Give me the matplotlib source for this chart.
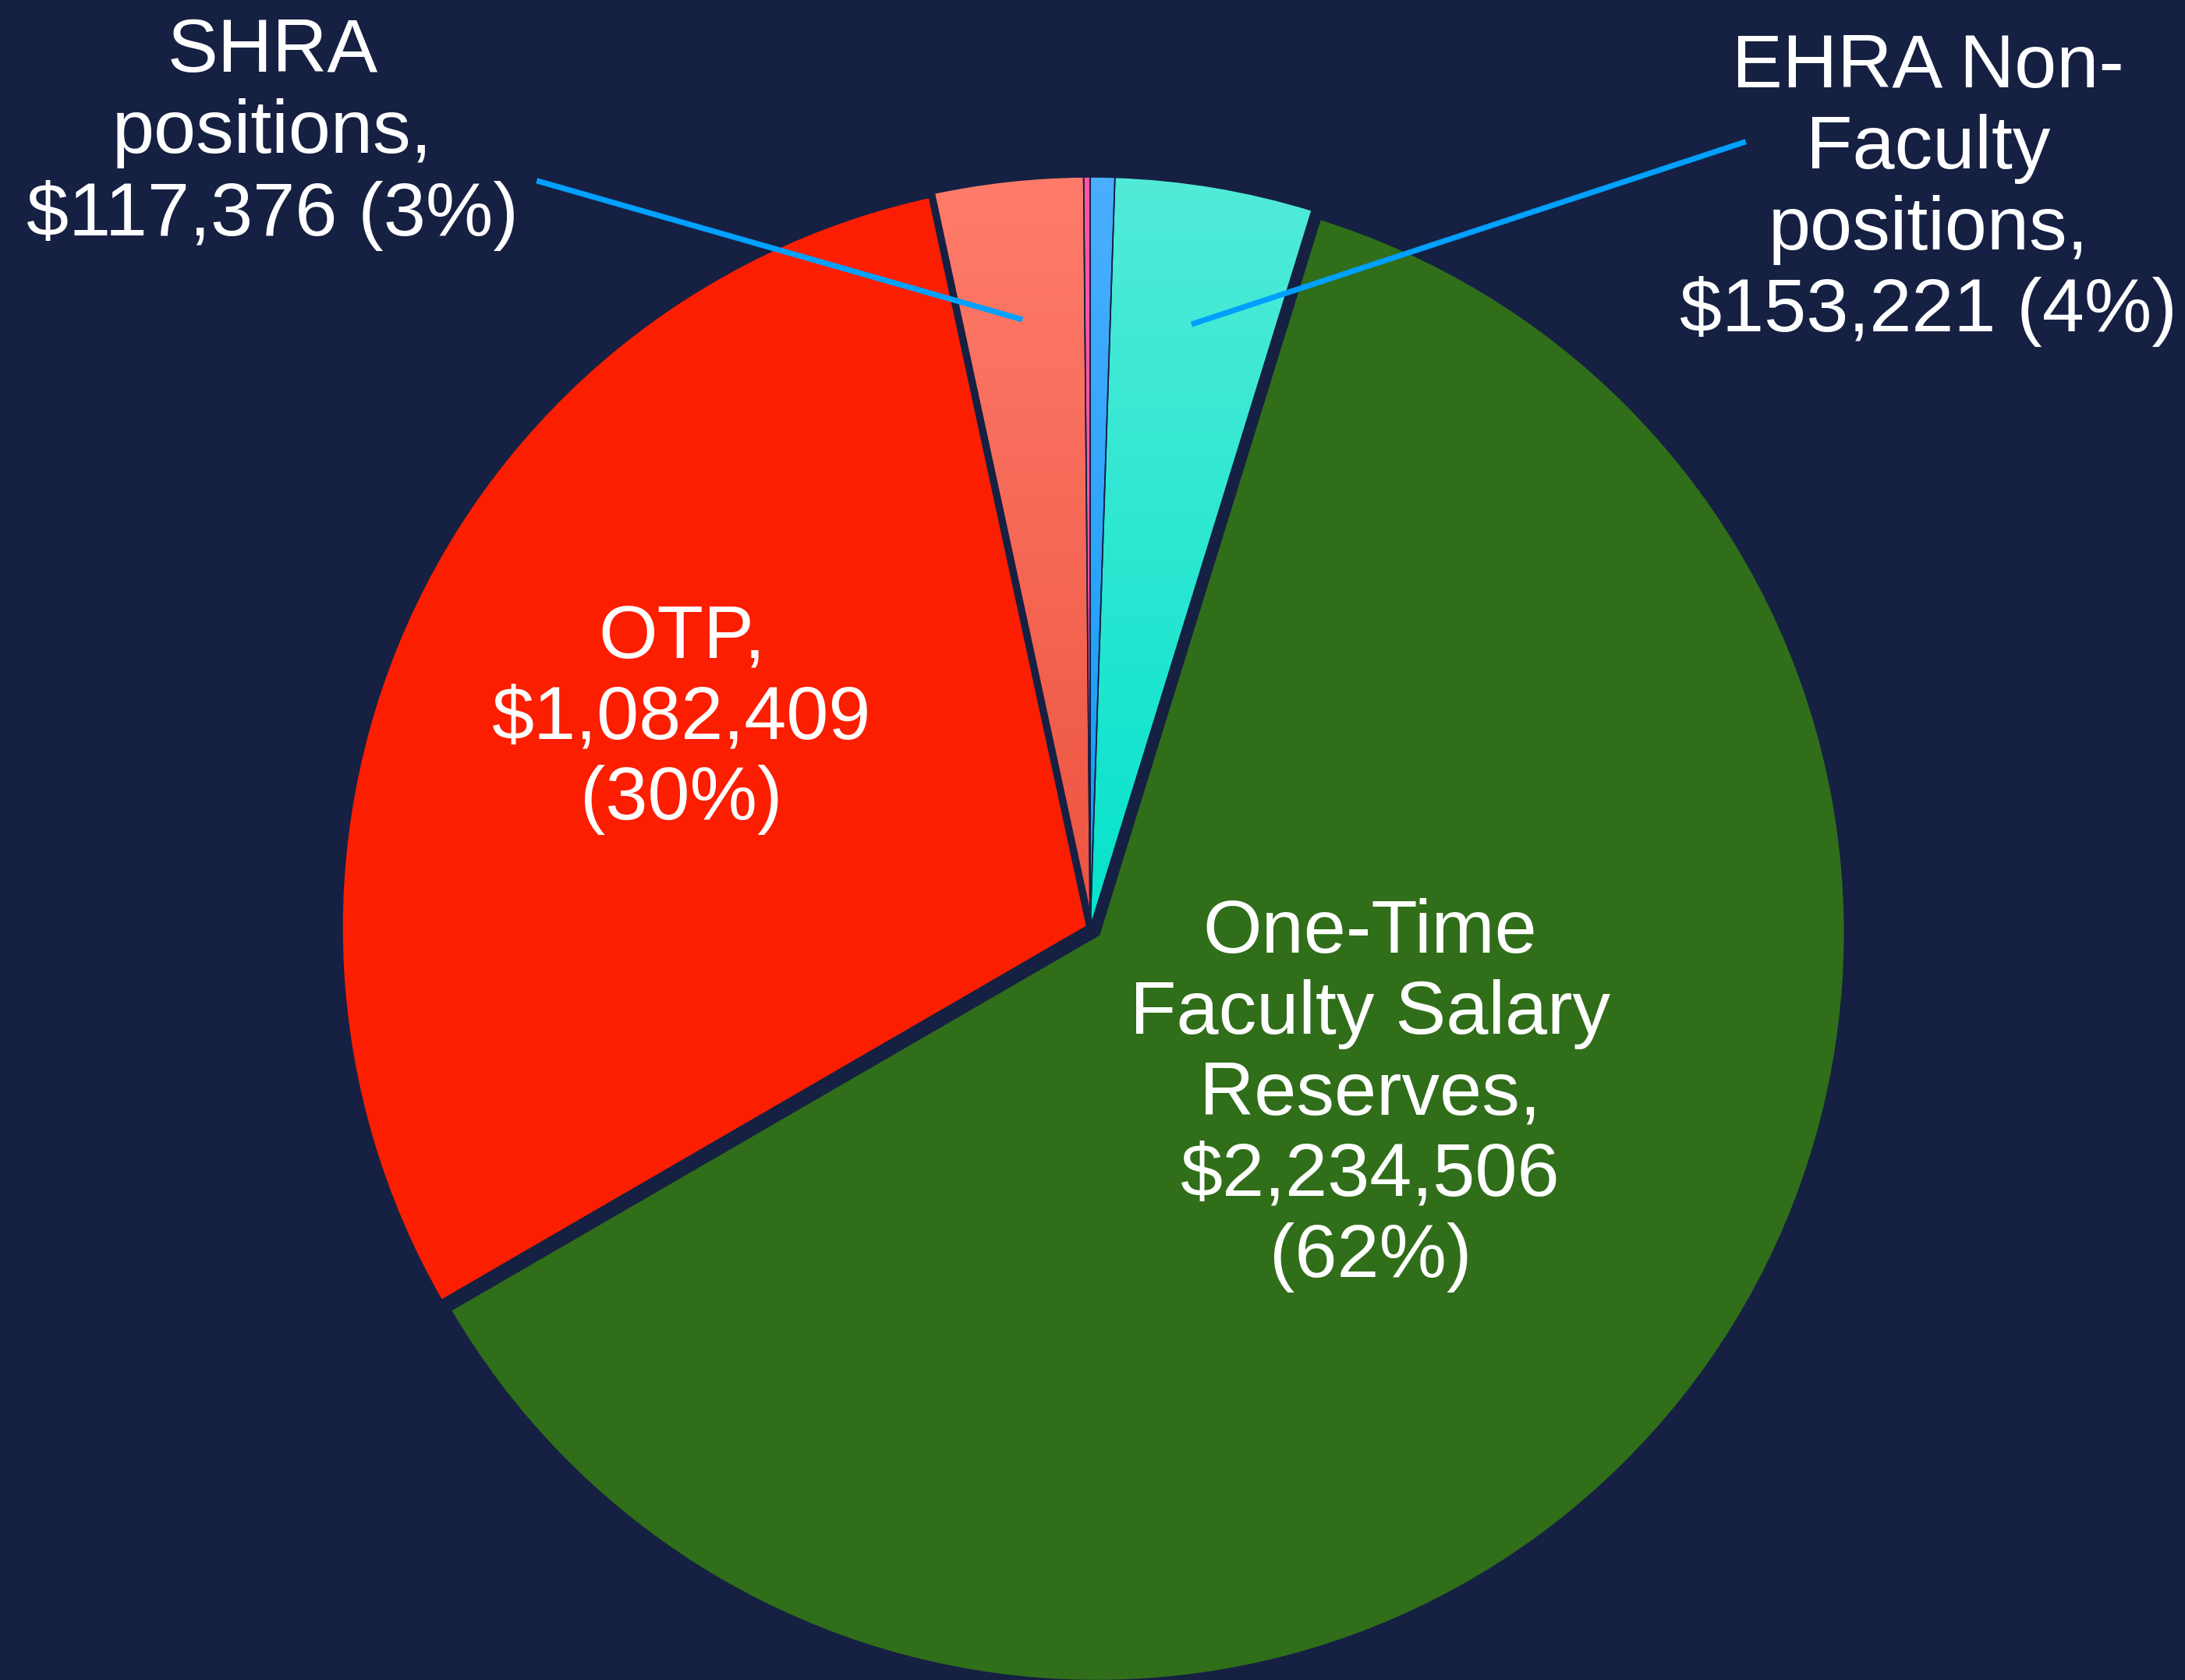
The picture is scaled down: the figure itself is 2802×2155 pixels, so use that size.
import numpy as np
import matplotlib.pyplot as plt
from matplotlib.colors import LinearSegmentedColormap

# slices, going clockwise from 12 o'clock
categories = ['Other A', 'Other B', 'EHRA Non-Faculty positions',
              'One-Time Faculty Salary Reserves', 'OTP', 'SHRA positions']
amounts = [5000, 19000, 153221, 2234506, 1082409, 117376]
label_text = ['', '',
              'EHRA Non-\nFaculty\npositions,\n$153,221 (4%)',
              'One-Time\nFaculty Salary\nReserves,\n$2,234,506\n(62%)',
              'OTP,\n$1,082,409\n(30%)',
              'SHRA\npositions,\n$117,376 (3%)']

BG = '#152042'
plt.rcParams['font.family'] = ['Liberation Sans', 'DejaVu Sans']

fig = plt.figure(figsize=(14.01, 10.775), dpi=200, facecolor=BG)
ax = fig.add_axes([0, 0, 1, 1])
ax.set_facecolor(BG)

solid_colors = ['#FF55A8', '#2AA6FF', '#2CEBD8', '#306E19', '#FB1E00', '#FF6E5A']
wedges, _ = ax.pie(amounts, startangle=90.5, counterclock=False,
                   explode=[0, 0, 0, 0.011, 0, 0], colors=solid_colors,
                   wedgeprops=dict(edgecolor=BG, linewidth=0.6))

# thick navy borders on the two big slices
for i in (3, 4):
    wedges[i].set_linewidth(3.4)
    wedges[i].set_zorder(3)
for i in (0, 1, 2, 5):
    wedges[i].set_zorder(2)

# vertical gradient fills (top colour, bottom colour)
gradients = {
    1: ('#4BAEFF', '#0E9CF5'),
    2: ('#52EBD8', '#05E3CC'),
    5: ('#FF7C6B', '#EC5440'),
}
for i, (top, bottom) in gradients.items():
    cmap = LinearSegmentedColormap.from_list('grad%d' % i, [bottom, top])
    img = ax.imshow(np.linspace(0, 1, 256).reshape(-1, 1), cmap=cmap, origin='lower',
                    extent=[-1, 1, 0, 1], aspect='auto', zorder=1.5)
    img.set_clip_path(wedges[i])
    wedges[i].set_facecolor('none')

# labels inside the big slices
ax.text(-0.544, 0.278, label_text[4], color='white', fontsize=35,
        ha='center', va='center', linespacing=1.2, zorder=5)
ax.text(0.373, -0.223, label_text[3], color='white', fontsize=35,
        ha='center', va='center', linespacing=1.2, zorder=5)

# outside labels with leader lines to the slice middle
outside = {5: (-1.089, 1.057, -0.737, 0.995), 2: (1.116, 0.983, 0.873, 1.047)}
for i, (tx, ty, lx, ly) in outside.items():
    w = wedges[i]
    mid = np.deg2rad((w.theta1 + w.theta2) / 2)
    px, py = w.center[0] + 0.815 * np.cos(mid), w.center[1] + 0.815 * np.sin(mid)
    ax.plot([lx, px], [ly, py], color='#00A0FF', lw=2.6, solid_capstyle='butt', zorder=4)
    ax.text(tx, ty, label_text[i], color='white', fontsize=35,
            ha='center', va='center', linespacing=1.2, zorder=5)

ax.set_xlim(-1.4517, 1.4579)
ax.set_ylim(-1.0021, 1.2357)
ax.set_aspect('auto')
ax.axis('off')

fig.savefig('out.png', dpi=200, facecolor=BG)
